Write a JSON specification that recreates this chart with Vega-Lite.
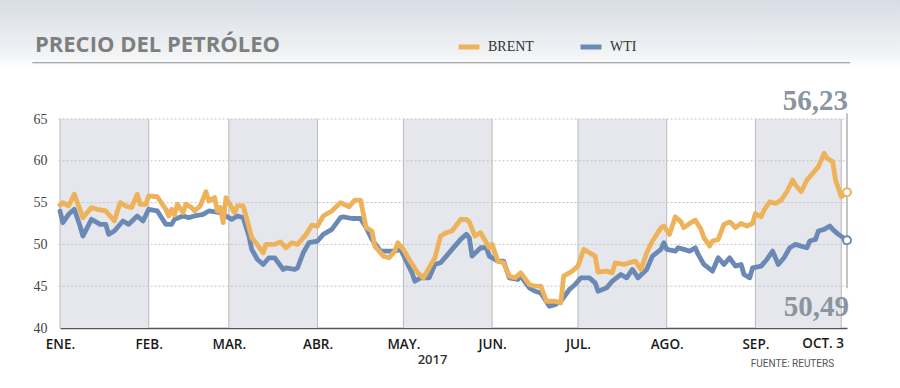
{
  "$schema": "https://vega.github.io/schema/vega-lite/v6.json",
  "width": 787,
  "height": 209,
  "autosize": {"type": "none"},
  "padding": {"left": 60, "top": 119, "right": 53, "bottom": 60},
  "background": "#ffffff",
  "config": {"view": {"stroke": null}},
  "datasets": {
    "uno": [{}],
    "bandas": [
      {"inicio": "2017-01-01", "fin": "2017-02-01"},
      {"inicio": "2017-03-01", "fin": "2017-04-01"},
      {"inicio": "2017-05-01", "fin": "2017-06-01"},
      {"inicio": "2017-07-01", "fin": "2017-08-01"},
      {"inicio": "2017-09-01", "fin": "2017-10-01"}
    ],
    "meses": [
      {"fecha": "2017-01-01"}, {"fecha": "2017-02-01"}, {"fecha": "2017-03-01"}, {"fecha": "2017-04-01"},
      {"fecha": "2017-05-01"}, {"fecha": "2017-06-01"}, {"fecha": "2017-07-01"}, {"fecha": "2017-08-01"},
      {"fecha": "2017-09-01"}, {"fecha": "2017-10-01"}
    ],
    "rejilla": [{"valor": 45}, {"valor": 50}, {"valor": 55}, {"valor": 60}, {"valor": 65}],
    "finales": [
      {"fecha": "2017-10-03", "serie": "BRENT", "valor": 56.23},
      {"fecha": "2017-10-03", "serie": "WTI", "valor": 50.49}
    ],
    "precios": [
      {"fecha": "2017-01-01", "serie": "BRENT", "valor": 54.7},
      {"fecha": "2017-01-02", "serie": "BRENT", "valor": 55.0},
      {"fecha": "2017-01-04", "serie": "BRENT", "valor": 54.6},
      {"fecha": "2017-01-06", "serie": "BRENT", "valor": 56.0},
      {"fecha": "2017-01-09", "serie": "BRENT", "valor": 53.2},
      {"fecha": "2017-01-12", "serie": "BRENT", "valor": 54.4},
      {"fecha": "2017-01-14", "serie": "BRENT", "valor": 54.2},
      {"fecha": "2017-01-17", "serie": "BRENT", "valor": 54.0},
      {"fecha": "2017-01-20", "serie": "BRENT", "valor": 52.8},
      {"fecha": "2017-01-22", "serie": "BRENT", "valor": 55.0},
      {"fecha": "2017-01-24", "serie": "BRENT", "valor": 54.6},
      {"fecha": "2017-01-26", "serie": "BRENT", "valor": 54.4},
      {"fecha": "2017-01-28", "serie": "BRENT", "valor": 56.0},
      {"fecha": "2017-01-29", "serie": "BRENT", "valor": 54.8},
      {"fecha": "2017-01-31", "serie": "BRENT", "valor": 54.8},
      {"fecha": "2017-02-01", "serie": "BRENT", "valor": 55.8},
      {"fecha": "2017-02-04", "serie": "BRENT", "valor": 55.7},
      {"fecha": "2017-02-07", "serie": "BRENT", "valor": 54.2},
      {"fecha": "2017-02-08", "serie": "BRENT", "valor": 53.4},
      {"fecha": "2017-02-09", "serie": "BRENT", "valor": 54.2},
      {"fecha": "2017-02-10", "serie": "BRENT", "valor": 53.5},
      {"fecha": "2017-02-11", "serie": "BRENT", "valor": 54.8},
      {"fecha": "2017-02-13", "serie": "BRENT", "valor": 53.8},
      {"fecha": "2017-02-14", "serie": "BRENT", "valor": 54.8},
      {"fecha": "2017-02-16", "serie": "BRENT", "valor": 54.4},
      {"fecha": "2017-02-17", "serie": "BRENT", "valor": 54.0},
      {"fecha": "2017-02-19", "serie": "BRENT", "valor": 54.6},
      {"fecha": "2017-02-21", "serie": "BRENT", "valor": 56.3},
      {"fecha": "2017-02-22", "serie": "BRENT", "valor": 55.2},
      {"fecha": "2017-02-24", "serie": "BRENT", "valor": 55.6},
      {"fecha": "2017-02-25", "serie": "BRENT", "valor": 54.0},
      {"fecha": "2017-02-26", "serie": "BRENT", "valor": 54.4},
      {"fecha": "2017-02-27", "serie": "BRENT", "valor": 52.6},
      {"fecha": "2017-02-28", "serie": "BRENT", "valor": 55.6},
      {"fecha": "2017-03-02", "serie": "BRENT", "valor": 54.4},
      {"fecha": "2017-03-03", "serie": "BRENT", "valor": 53.8},
      {"fecha": "2017-03-04", "serie": "BRENT", "valor": 54.6},
      {"fecha": "2017-03-06", "serie": "BRENT", "valor": 54.6},
      {"fecha": "2017-03-07", "serie": "BRENT", "valor": 53.4},
      {"fecha": "2017-03-09", "serie": "BRENT", "valor": 50.8},
      {"fecha": "2017-03-10", "serie": "BRENT", "valor": 50.4},
      {"fecha": "2017-03-13", "serie": "BRENT", "valor": 49.0},
      {"fecha": "2017-03-14", "serie": "BRENT", "valor": 50.0},
      {"fecha": "2017-03-17", "serie": "BRENT", "valor": 50.0},
      {"fecha": "2017-03-19", "serie": "BRENT", "valor": 50.3},
      {"fecha": "2017-03-21", "serie": "BRENT", "valor": 49.6},
      {"fecha": "2017-03-23", "serie": "BRENT", "valor": 50.2},
      {"fecha": "2017-03-25", "serie": "BRENT", "valor": 50.0},
      {"fecha": "2017-03-28", "serie": "BRENT", "valor": 51.2},
      {"fecha": "2017-03-30", "serie": "BRENT", "valor": 52.3},
      {"fecha": "2017-04-01", "serie": "BRENT", "valor": 52.2},
      {"fecha": "2017-04-03", "serie": "BRENT", "valor": 53.4},
      {"fecha": "2017-04-06", "serie": "BRENT", "valor": 54.0},
      {"fecha": "2017-04-09", "serie": "BRENT", "valor": 55.0},
      {"fecha": "2017-04-12", "serie": "BRENT", "valor": 54.5},
      {"fecha": "2017-04-14", "serie": "BRENT", "valor": 55.3},
      {"fecha": "2017-04-16", "serie": "BRENT", "valor": 55.3},
      {"fecha": "2017-04-18", "serie": "BRENT", "valor": 52.0},
      {"fecha": "2017-04-20", "serie": "BRENT", "valor": 51.6},
      {"fecha": "2017-04-21", "serie": "BRENT", "valor": 49.8},
      {"fecha": "2017-04-24", "serie": "BRENT", "valor": 48.6},
      {"fecha": "2017-04-26", "serie": "BRENT", "valor": 48.4},
      {"fecha": "2017-04-28", "serie": "BRENT", "valor": 49.2},
      {"fecha": "2017-04-29", "serie": "BRENT", "valor": 50.2},
      {"fecha": "2017-05-01", "serie": "BRENT", "valor": 49.4},
      {"fecha": "2017-05-03", "serie": "BRENT", "valor": 48.2},
      {"fecha": "2017-05-06", "serie": "BRENT", "valor": 46.6},
      {"fecha": "2017-05-08", "serie": "BRENT", "valor": 46.0},
      {"fecha": "2017-05-10", "serie": "BRENT", "valor": 47.2},
      {"fecha": "2017-05-12", "serie": "BRENT", "valor": 48.4},
      {"fecha": "2017-05-14", "serie": "BRENT", "valor": 51.0},
      {"fecha": "2017-05-16", "serie": "BRENT", "valor": 51.4},
      {"fecha": "2017-05-18", "serie": "BRENT", "valor": 51.6},
      {"fecha": "2017-05-21", "serie": "BRENT", "valor": 53.0},
      {"fecha": "2017-05-23", "serie": "BRENT", "valor": 53.0},
      {"fecha": "2017-05-24", "serie": "BRENT", "valor": 52.7},
      {"fecha": "2017-05-26", "serie": "BRENT", "valor": 51.0},
      {"fecha": "2017-05-28", "serie": "BRENT", "valor": 51.4},
      {"fecha": "2017-05-31", "serie": "BRENT", "valor": 49.6},
      {"fecha": "2017-06-01", "serie": "BRENT", "valor": 50.0},
      {"fecha": "2017-06-03", "serie": "BRENT", "valor": 48.0},
      {"fecha": "2017-06-05", "serie": "BRENT", "valor": 47.8},
      {"fecha": "2017-06-07", "serie": "BRENT", "valor": 46.2},
      {"fecha": "2017-06-09", "serie": "BRENT", "valor": 46.0},
      {"fecha": "2017-06-11", "serie": "BRENT", "valor": 46.6},
      {"fecha": "2017-06-14", "serie": "BRENT", "valor": 45.2},
      {"fecha": "2017-06-16", "serie": "BRENT", "valor": 45.0},
      {"fecha": "2017-06-18", "serie": "BRENT", "valor": 45.0},
      {"fecha": "2017-06-20", "serie": "BRENT", "valor": 43.2},
      {"fecha": "2017-06-23", "serie": "BRENT", "valor": 43.2},
      {"fecha": "2017-06-25", "serie": "BRENT", "valor": 43.0},
      {"fecha": "2017-06-26", "serie": "BRENT", "valor": 46.2},
      {"fecha": "2017-06-29", "serie": "BRENT", "valor": 46.8},
      {"fecha": "2017-07-01", "serie": "BRENT", "valor": 47.4},
      {"fecha": "2017-07-03", "serie": "BRENT", "valor": 49.4},
      {"fecha": "2017-07-05", "serie": "BRENT", "valor": 49.0},
      {"fecha": "2017-07-07", "serie": "BRENT", "valor": 48.6},
      {"fecha": "2017-07-08", "serie": "BRENT", "valor": 46.7},
      {"fecha": "2017-07-11", "serie": "BRENT", "valor": 46.8},
      {"fecha": "2017-07-13", "serie": "BRENT", "valor": 46.6},
      {"fecha": "2017-07-14", "serie": "BRENT", "valor": 47.8},
      {"fecha": "2017-07-17", "serie": "BRENT", "valor": 47.6},
      {"fecha": "2017-07-19", "serie": "BRENT", "valor": 47.8},
      {"fecha": "2017-07-21", "serie": "BRENT", "valor": 48.0},
      {"fecha": "2017-07-23", "serie": "BRENT", "valor": 47.0},
      {"fecha": "2017-07-25", "serie": "BRENT", "valor": 49.0},
      {"fecha": "2017-07-27", "serie": "BRENT", "valor": 50.4},
      {"fecha": "2017-07-30", "serie": "BRENT", "valor": 52.0},
      {"fecha": "2017-07-31", "serie": "BRENT", "valor": 52.2},
      {"fecha": "2017-08-02", "serie": "BRENT", "valor": 51.2},
      {"fecha": "2017-08-04", "serie": "BRENT", "valor": 53.3},
      {"fecha": "2017-08-06", "serie": "BRENT", "valor": 52.7},
      {"fecha": "2017-08-07", "serie": "BRENT", "valor": 52.0},
      {"fecha": "2017-08-09", "serie": "BRENT", "valor": 52.5},
      {"fecha": "2017-08-11", "serie": "BRENT", "valor": 52.9},
      {"fecha": "2017-08-13", "serie": "BRENT", "valor": 51.8},
      {"fecha": "2017-08-14", "serie": "BRENT", "valor": 50.8},
      {"fecha": "2017-08-16", "serie": "BRENT", "valor": 49.8},
      {"fecha": "2017-08-17", "serie": "BRENT", "valor": 50.4},
      {"fecha": "2017-08-19", "serie": "BRENT", "valor": 50.6},
      {"fecha": "2017-08-21", "serie": "BRENT", "valor": 52.4},
      {"fecha": "2017-08-23", "serie": "BRENT", "valor": 52.7},
      {"fecha": "2017-08-24", "serie": "BRENT", "valor": 52.4},
      {"fecha": "2017-08-25", "serie": "BRENT", "valor": 52.0},
      {"fecha": "2017-08-27", "serie": "BRENT", "valor": 52.5},
      {"fecha": "2017-08-29", "serie": "BRENT", "valor": 52.2},
      {"fecha": "2017-08-31", "serie": "BRENT", "valor": 52.5},
      {"fecha": "2017-09-01", "serie": "BRENT", "valor": 53.7},
      {"fecha": "2017-09-03", "serie": "BRENT", "valor": 53.3},
      {"fecha": "2017-09-04", "serie": "BRENT", "valor": 54.1},
      {"fecha": "2017-09-06", "serie": "BRENT", "valor": 55.1},
      {"fecha": "2017-09-08", "serie": "BRENT", "valor": 54.9},
      {"fecha": "2017-09-10", "serie": "BRENT", "valor": 55.3},
      {"fecha": "2017-09-12", "serie": "BRENT", "valor": 56.3},
      {"fecha": "2017-09-14", "serie": "BRENT", "valor": 57.7},
      {"fecha": "2017-09-15", "serie": "BRENT", "valor": 57.1},
      {"fecha": "2017-09-17", "serie": "BRENT", "valor": 56.3},
      {"fecha": "2017-09-19", "serie": "BRENT", "valor": 57.7},
      {"fecha": "2017-09-21", "serie": "BRENT", "valor": 58.5},
      {"fecha": "2017-09-23", "serie": "BRENT", "valor": 59.3},
      {"fecha": "2017-09-25", "serie": "BRENT", "valor": 60.9},
      {"fecha": "2017-09-26", "serie": "BRENT", "valor": 60.3},
      {"fecha": "2017-09-28", "serie": "BRENT", "valor": 59.9},
      {"fecha": "2017-09-29", "serie": "BRENT", "valor": 57.7},
      {"fecha": "2017-10-01", "serie": "BRENT", "valor": 55.7},
      {"fecha": "2017-10-03", "serie": "BRENT", "valor": 56.23},
      {"fecha": "2017-01-01", "serie": "WTI", "valor": 54.0},
      {"fecha": "2017-01-02", "serie": "WTI", "valor": 52.6},
      {"fecha": "2017-01-04", "serie": "WTI", "valor": 53.6},
      {"fecha": "2017-01-06", "serie": "WTI", "valor": 54.2},
      {"fecha": "2017-01-08", "serie": "WTI", "valor": 52.2},
      {"fecha": "2017-01-09", "serie": "WTI", "valor": 51.0},
      {"fecha": "2017-01-12", "serie": "WTI", "valor": 53.0},
      {"fecha": "2017-01-14", "serie": "WTI", "valor": 52.6},
      {"fecha": "2017-01-15", "serie": "WTI", "valor": 52.4},
      {"fecha": "2017-01-17", "serie": "WTI", "valor": 52.4},
      {"fecha": "2017-01-18", "serie": "WTI", "valor": 51.2},
      {"fecha": "2017-01-20", "serie": "WTI", "valor": 51.6},
      {"fecha": "2017-01-23", "serie": "WTI", "valor": 52.8},
      {"fecha": "2017-01-25", "serie": "WTI", "valor": 52.4},
      {"fecha": "2017-01-28", "serie": "WTI", "valor": 53.4},
      {"fecha": "2017-01-30", "serie": "WTI", "valor": 52.8},
      {"fecha": "2017-02-01", "serie": "WTI", "valor": 54.2},
      {"fecha": "2017-02-04", "serie": "WTI", "valor": 54.0},
      {"fecha": "2017-02-07", "serie": "WTI", "valor": 52.4},
      {"fecha": "2017-02-09", "serie": "WTI", "valor": 52.4},
      {"fecha": "2017-02-10", "serie": "WTI", "valor": 53.0},
      {"fecha": "2017-02-13", "serie": "WTI", "valor": 53.4},
      {"fecha": "2017-02-15", "serie": "WTI", "valor": 53.2},
      {"fecha": "2017-02-17", "serie": "WTI", "valor": 53.4},
      {"fecha": "2017-02-20", "serie": "WTI", "valor": 53.6},
      {"fecha": "2017-02-22", "serie": "WTI", "valor": 54.0},
      {"fecha": "2017-02-26", "serie": "WTI", "valor": 53.8},
      {"fecha": "2017-03-02", "serie": "WTI", "valor": 53.0},
      {"fecha": "2017-03-04", "serie": "WTI", "valor": 53.4},
      {"fecha": "2017-03-06", "serie": "WTI", "valor": 53.2},
      {"fecha": "2017-03-08", "serie": "WTI", "valor": 51.0},
      {"fecha": "2017-03-09", "serie": "WTI", "valor": 49.4},
      {"fecha": "2017-03-11", "serie": "WTI", "valor": 48.2},
      {"fecha": "2017-03-13", "serie": "WTI", "valor": 47.6},
      {"fecha": "2017-03-15", "serie": "WTI", "valor": 48.4},
      {"fecha": "2017-03-17", "serie": "WTI", "valor": 48.4},
      {"fecha": "2017-03-20", "serie": "WTI", "valor": 47.0},
      {"fecha": "2017-03-21", "serie": "WTI", "valor": 47.2},
      {"fecha": "2017-03-24", "serie": "WTI", "valor": 47.0},
      {"fecha": "2017-03-25", "serie": "WTI", "valor": 47.2},
      {"fecha": "2017-03-27", "serie": "WTI", "valor": 49.0},
      {"fecha": "2017-03-29", "serie": "WTI", "valor": 50.2},
      {"fecha": "2017-04-01", "serie": "WTI", "valor": 50.4},
      {"fecha": "2017-04-03", "serie": "WTI", "valor": 51.2},
      {"fecha": "2017-04-06", "serie": "WTI", "valor": 51.8},
      {"fecha": "2017-04-09", "serie": "WTI", "valor": 53.2},
      {"fecha": "2017-04-10", "serie": "WTI", "valor": 53.3},
      {"fecha": "2017-04-13", "serie": "WTI", "valor": 53.1},
      {"fecha": "2017-04-16", "serie": "WTI", "valor": 53.1},
      {"fecha": "2017-04-18", "serie": "WTI", "valor": 52.0},
      {"fecha": "2017-04-20", "serie": "WTI", "valor": 50.6},
      {"fecha": "2017-04-23", "serie": "WTI", "valor": 49.2},
      {"fecha": "2017-04-25", "serie": "WTI", "valor": 49.2},
      {"fecha": "2017-04-28", "serie": "WTI", "valor": 49.2},
      {"fecha": "2017-04-30", "serie": "WTI", "valor": 49.4},
      {"fecha": "2017-05-02", "serie": "WTI", "valor": 48.0},
      {"fecha": "2017-05-04", "serie": "WTI", "valor": 46.6},
      {"fecha": "2017-05-05", "serie": "WTI", "valor": 45.6},
      {"fecha": "2017-05-07", "serie": "WTI", "valor": 46.0},
      {"fecha": "2017-05-10", "serie": "WTI", "valor": 46.0},
      {"fecha": "2017-05-12", "serie": "WTI", "valor": 47.6},
      {"fecha": "2017-05-14", "serie": "WTI", "valor": 47.8},
      {"fecha": "2017-05-16", "serie": "WTI", "valor": 48.6},
      {"fecha": "2017-05-18", "serie": "WTI", "valor": 49.4},
      {"fecha": "2017-05-21", "serie": "WTI", "valor": 50.6},
      {"fecha": "2017-05-23", "serie": "WTI", "valor": 51.2},
      {"fecha": "2017-05-24", "serie": "WTI", "valor": 50.8},
      {"fecha": "2017-05-25", "serie": "WTI", "valor": 48.6},
      {"fecha": "2017-05-28", "serie": "WTI", "valor": 49.6},
      {"fecha": "2017-05-30", "serie": "WTI", "valor": 49.6},
      {"fecha": "2017-05-31", "serie": "WTI", "valor": 48.6},
      {"fecha": "2017-06-03", "serie": "WTI", "valor": 48.0},
      {"fecha": "2017-06-05", "serie": "WTI", "valor": 48.0},
      {"fecha": "2017-06-07", "serie": "WTI", "valor": 46.0},
      {"fecha": "2017-06-10", "serie": "WTI", "valor": 45.8},
      {"fecha": "2017-06-11", "serie": "WTI", "valor": 46.2},
      {"fecha": "2017-06-14", "serie": "WTI", "valor": 44.8},
      {"fecha": "2017-06-16", "serie": "WTI", "valor": 44.4},
      {"fecha": "2017-06-18", "serie": "WTI", "valor": 44.2},
      {"fecha": "2017-06-21", "serie": "WTI", "valor": 42.6},
      {"fecha": "2017-06-23", "serie": "WTI", "valor": 42.8},
      {"fecha": "2017-06-25", "serie": "WTI", "valor": 43.2},
      {"fecha": "2017-06-28", "serie": "WTI", "valor": 44.6},
      {"fecha": "2017-06-30", "serie": "WTI", "valor": 45.2},
      {"fecha": "2017-07-02", "serie": "WTI", "valor": 46.0},
      {"fecha": "2017-07-05", "serie": "WTI", "valor": 46.0},
      {"fecha": "2017-07-07", "serie": "WTI", "valor": 45.4},
      {"fecha": "2017-07-08", "serie": "WTI", "valor": 44.4},
      {"fecha": "2017-07-11", "serie": "WTI", "valor": 44.8},
      {"fecha": "2017-07-13", "serie": "WTI", "valor": 45.6},
      {"fecha": "2017-07-16", "serie": "WTI", "valor": 46.4},
      {"fecha": "2017-07-18", "serie": "WTI", "valor": 46.0},
      {"fecha": "2017-07-20", "serie": "WTI", "valor": 47.0},
      {"fecha": "2017-07-22", "serie": "WTI", "valor": 46.0},
      {"fecha": "2017-07-25", "serie": "WTI", "valor": 47.0},
      {"fecha": "2017-07-27", "serie": "WTI", "valor": 48.6},
      {"fecha": "2017-07-30", "serie": "WTI", "valor": 49.4},
      {"fecha": "2017-07-31", "serie": "WTI", "valor": 50.2},
      {"fecha": "2017-08-01", "serie": "WTI", "valor": 49.4},
      {"fecha": "2017-08-04", "serie": "WTI", "valor": 49.2},
      {"fecha": "2017-08-05", "serie": "WTI", "valor": 49.6},
      {"fecha": "2017-08-07", "serie": "WTI", "valor": 49.4},
      {"fecha": "2017-08-09", "serie": "WTI", "valor": 49.2},
      {"fecha": "2017-08-11", "serie": "WTI", "valor": 49.6},
      {"fecha": "2017-08-12", "serie": "WTI", "valor": 48.8},
      {"fecha": "2017-08-14", "serie": "WTI", "valor": 47.6},
      {"fecha": "2017-08-17", "serie": "WTI", "valor": 46.8},
      {"fecha": "2017-08-19", "serie": "WTI", "valor": 48.4},
      {"fecha": "2017-08-21", "serie": "WTI", "valor": 47.6},
      {"fecha": "2017-08-23", "serie": "WTI", "valor": 48.4},
      {"fecha": "2017-08-25", "serie": "WTI", "valor": 47.4},
      {"fecha": "2017-08-27", "serie": "WTI", "valor": 47.6},
      {"fecha": "2017-08-28", "serie": "WTI", "valor": 46.4},
      {"fecha": "2017-08-30", "serie": "WTI", "valor": 46.0},
      {"fecha": "2017-08-31", "serie": "WTI", "valor": 47.2},
      {"fecha": "2017-09-03", "serie": "WTI", "valor": 47.4},
      {"fecha": "2017-09-05", "serie": "WTI", "valor": 48.2},
      {"fecha": "2017-09-07", "serie": "WTI", "valor": 49.2},
      {"fecha": "2017-09-09", "serie": "WTI", "valor": 47.6},
      {"fecha": "2017-09-11", "serie": "WTI", "valor": 48.4},
      {"fecha": "2017-09-13", "serie": "WTI", "valor": 49.6},
      {"fecha": "2017-09-15", "serie": "WTI", "valor": 50.0},
      {"fecha": "2017-09-17", "serie": "WTI", "valor": 49.8},
      {"fecha": "2017-09-19", "serie": "WTI", "valor": 49.6},
      {"fecha": "2017-09-20", "serie": "WTI", "valor": 50.4},
      {"fecha": "2017-09-22", "serie": "WTI", "valor": 50.6},
      {"fecha": "2017-09-23", "serie": "WTI", "valor": 51.6},
      {"fecha": "2017-09-25", "serie": "WTI", "valor": 51.8},
      {"fecha": "2017-09-27", "serie": "WTI", "valor": 52.2},
      {"fecha": "2017-09-28", "serie": "WTI", "valor": 51.8},
      {"fecha": "2017-09-30", "serie": "WTI", "valor": 51.2},
      {"fecha": "2017-10-03", "serie": "WTI", "valor": 50.49}
    ]
  },
  "layer": [
    {
      "data": {"name": "uno"},
      "mark": {"type": "rect", "fill": {"gradient": "linear", "x1": 0, "y1": 0, "x2": 0, "y2": 1, "stops": [{"offset": 0, "color": "#d5dae2"}, {"offset": 0.8, "color": "#f1f3f5"}, {"offset": 1, "color": "#ffffff"}]}},
      "encoding": {
        "x": {"datum": {"year": 2016, "month": 12, "date": 1}, "type": "temporal", "scale": {"domain": [{"year": 2017, "month": 1, "date": 1}, {"year": 2017, "month": 10, "date": 3}]}},
        "x2": {"datum": {"year": 2017, "month": 11, "date": 1}},
        "y": {"datum": 80, "type": "quantitative", "scale": {"domain": [40, 65], "nice": false, "zero": false}},
        "y2": {"datum": 71}
      }
    },
    {
      "data": {"name": "uno"},
      "mark": {"type": "rule", "color": "#8f8f8f", "strokeWidth": 1.2},
      "encoding": {
        "x": {"datum": {"year": 2016, "month": 12, "date": 22, "hours": 8}, "type": "temporal", "scale": {"domain": [{"year": 2017, "month": 1, "date": 1}, {"year": 2017, "month": 10, "date": 3}]}},
        "x2": {"datum": {"year": 2017, "month": 10, "date": 4, "hours": 1}},
        "y": {"datum": 71.73, "type": "quantitative", "scale": {"domain": [40, 65], "nice": false, "zero": false}}
      }
    },
    {
      "data": {"name": "uno"},
      "mark": {"type": "text", "text": "PRECIO DEL PETRÓLEO", "align": "left", "baseline": "alphabetic", "font": "Open Sans", "fontSize": 22, "fontWeight": 700, "color": "#7f7f7f"},
      "encoding": {
        "x": {"datum": {"year": 2016, "month": 12, "date": 23, "hours": 6}, "type": "temporal", "scale": {"domain": [{"year": 2017, "month": 1, "date": 1}, {"year": 2017, "month": 10, "date": 3}]}},
        "y": {"datum": 73.0, "type": "quantitative", "scale": {"domain": [40, 65], "nice": false, "zero": false}}
      }
    },
    {
      "data": {"name": "bandas", "format": {"parse": {"inicio": "date:'%Y-%m-%d'", "fin": "date:'%Y-%m-%d'"}}},
      "mark": {"type": "rect", "color": "#e6e7ed"},
      "encoding": {
        "x": {"field": "inicio", "type": "temporal", "scale": {"domain": [{"year": 2017, "month": 1, "date": 1}, {"year": 2017, "month": 10, "date": 3}]}},
        "x2": {"field": "fin"},
        "y": {"datum": 40, "type": "quantitative", "scale": {"domain": [40, 65], "nice": false, "zero": false}},
        "y2": {"datum": 65}
      }
    },
    {
      "data": {"name": "meses", "format": {"parse": {"fecha": "date:'%Y-%m-%d'"}}},
      "mark": {"type": "rule", "color": "#b9b9bd", "strokeWidth": 1},
      "encoding": {
        "x": {"field": "fecha", "type": "temporal", "scale": {"domain": [{"year": 2017, "month": 1, "date": 1}, {"year": 2017, "month": 10, "date": 3}]}},
        "y": {"datum": 40, "type": "quantitative", "scale": {"domain": [40, 65], "nice": false, "zero": false}},
        "y2": {"datum": 65}
      }
    },
    {
      "data": {"name": "rejilla"},
      "mark": {"type": "rule", "color": "#c4c4c4", "strokeWidth": 1, "strokeDash": [2, 2]},
      "encoding": {
        "x": {"datum": {"year": 2016, "month": 12, "date": 31, "hours": 12}, "type": "temporal", "scale": {"domain": [{"year": 2017, "month": 1, "date": 1}, {"year": 2017, "month": 10, "date": 3}]}},
        "x2": {"datum": {"year": 2017, "month": 10, "date": 3}},
        "y": {"field": "valor", "type": "quantitative", "scale": {"domain": [40, 65], "nice": false, "zero": false}}
      }
    },
    {
      "data": {"name": "uno"},
      "mark": {"type": "rule", "color": "#b0b0b0", "strokeWidth": 1.5},
      "encoding": {
        "x": {"datum": {"year": 2017, "month": 10, "date": 3}, "type": "temporal", "scale": {"domain": [{"year": 2017, "month": 1, "date": 1}, {"year": 2017, "month": 10, "date": 3}]}},
        "y": {"datum": 44.75, "type": "quantitative", "scale": {"domain": [40, 65], "nice": false, "zero": false}},
        "y2": {"datum": 65.68}
      }
    },
    {
      "data": {"name": "precios"},
      "transform": [{"filter": "datum.serie == 'WTI'"}],
      "mark": {"type": "line", "strokeWidth": 4.8, "strokeJoin": "round", "strokeCap": "round"},
      "encoding": {
        "x": {"field": "fecha", "type": "temporal", "scale": {"domain": [{"year": 2017, "month": 1, "date": 1}, {"year": 2017, "month": 10, "date": 3}]}},
        "y": {"field": "valor", "type": "quantitative", "scale": {"domain": [40, 65], "nice": false, "zero": false}},
        "color": {"field": "serie", "type": "nominal", "scale": {"domain": ["BRENT", "WTI"], "range": ["#edb25a", "#6a8ab5"]}}
      }
    },
    {
      "data": {"name": "precios"},
      "transform": [{"filter": "datum.serie == 'BRENT'"}],
      "mark": {"type": "line", "strokeWidth": 4.8, "strokeJoin": "round", "strokeCap": "round"},
      "encoding": {
        "x": {
          "field": "fecha", "type": "temporal",
          "scale": {"domain": [{"year": 2017, "month": 1, "date": 1}, {"year": 2017, "month": 10, "date": 3}]},
          "axis": {
            "values": [
              {"year": 2017, "month": 1, "date": 1}, {"year": 2017, "month": 2, "date": 1}, {"year": 2017, "month": 3, "date": 1},
              {"year": 2017, "month": 4, "date": 1}, {"year": 2017, "month": 5, "date": 1}, {"year": 2017, "month": 6, "date": 1},
              {"year": 2017, "month": 7, "date": 1}, {"year": 2017, "month": 8, "date": 1}, {"year": 2017, "month": 9, "date": 1}
            ],
            "labelExpr": "month(datum.value) == 0 ? 'ENE.' : month(datum.value) == 1 ? 'FEB.' : month(datum.value) == 2 ? 'MAR.' : month(datum.value) == 3 ? 'ABR.' : month(datum.value) == 4 ? 'MAY.' : month(datum.value) == 5 ? 'JUN.' : month(datum.value) == 6 ? 'JUL.' : month(datum.value) == 7 ? 'AGO.' : 'SEP.'",
            "labelAlign": "center",
            "labelFont": "Open Sans", "labelFontWeight": 600, "labelFontSize": 13.5, "labelColor": "#1a1a1a",
            "labelBaseline": "alphabetic", "labelPadding": 20,
            "labelOverlap": false, "labelFlush": false, "labelBound": false,
            "ticks": false, "grid": false, "domainColor": "#555555", "domainWidth": 1.5,
            "title": "2017", "titleFont": "Open Sans", "titleFontWeight": 600, "titleFontSize": 13, "titleColor": "#333333",
            "titleX": 372, "titleY": 35, "titleAlign": "center", "titleBaseline": "alphabetic"
          }
        },
        "y": {
          "field": "valor", "type": "quantitative",
          "scale": {"domain": [40, 65], "nice": false, "zero": false},
          "axis": {"values": [40, 45, 50, 55, 60, 65], "labelFont": "Liberation Serif", "labelFontSize": 14, "labelColor": "#444444", "labelPadding": 13, "ticks": false, "domain": false, "grid": false, "title": null, "labelBaseline": "middle"}
        },
        "color": {
          "field": "serie", "type": "nominal",
          "scale": {"domain": ["BRENT", "WTI"], "range": ["#edb25a", "#6a8ab5"]},
          "legend": {"orient": "none", "legendX": 396, "legendY": -85, "direction": "horizontal", "title": null, "symbolType": "stroke", "symbolStrokeWidth": 5, "symbolSize": 440, "labelFont": "Liberation Serif", "labelFontSize": 14, "labelColor": "#333333", "labelOffset": 6, "columnPadding": 36}
        }
      }
    },
    {
      "data": {"name": "finales", "format": {"parse": {"fecha": "date:'%Y-%m-%d'"}}},
      "mark": {"type": "point", "shape": "circle", "fill": "#ffffff", "fillOpacity": 1, "strokeWidth": 2, "size": 64, "opacity": 1},
      "encoding": {
        "x": {"field": "fecha", "type": "temporal", "scale": {"domain": [{"year": 2017, "month": 1, "date": 1}, {"year": 2017, "month": 10, "date": 3}]}},
        "y": {"field": "valor", "type": "quantitative", "scale": {"domain": [40, 65], "nice": false, "zero": false}},
        "stroke": {"field": "serie", "type": "nominal", "scale": {"domain": ["BRENT", "WTI"], "range": ["#edb25a", "#6a8ab5"]}, "legend": null}
      }
    },
    {
      "data": {"name": "uno"},
      "mark": {"type": "text", "text": "56,23", "align": "right", "baseline": "alphabetic", "dx": 1, "font": "Liberation Serif", "fontSize": 29, "fontWeight": 700, "color": "#8a959f"},
      "encoding": {
        "x": {"datum": {"year": 2017, "month": 10, "date": 3}, "type": "temporal", "scale": {"domain": [{"year": 2017, "month": 1, "date": 1}, {"year": 2017, "month": 10, "date": 3}]}},
        "y": {"datum": 66.08, "type": "quantitative", "scale": {"domain": [40, 65], "nice": false, "zero": false}}
      }
    },
    {
      "data": {"name": "uno"},
      "mark": {"type": "text", "text": "50,49", "align": "right", "baseline": "alphabetic", "dx": 2, "font": "Liberation Serif", "fontSize": 29, "fontWeight": 700, "color": "#8a959f"},
      "encoding": {
        "x": {"datum": {"year": 2017, "month": 10, "date": 3}, "type": "temporal", "scale": {"domain": [{"year": 2017, "month": 1, "date": 1}, {"year": 2017, "month": 10, "date": 3}]}},
        "y": {"datum": 41.44, "type": "quantitative", "scale": {"domain": [40, 65], "nice": false, "zero": false}}
      }
    },
    {
      "data": {"name": "uno"},
      "mark": {"type": "text", "text": "OCT. 3", "align": "right", "baseline": "alphabetic", "dx": -3, "font": "Open Sans", "fontSize": 13.5, "fontWeight": 600, "color": "#1a1a1a"},
      "encoding": {
        "x": {"datum": {"year": 2017, "month": 10, "date": 3}, "type": "temporal", "scale": {"domain": [{"year": 2017, "month": 1, "date": 1}, {"year": 2017, "month": 10, "date": 3}]}},
        "y": {"datum": 37.61, "type": "quantitative", "scale": {"domain": [40, 65], "nice": false, "zero": false}}
      }
    },
    {
      "data": {"name": "uno"},
      "mark": {"type": "text", "text": "FUENTE: REUTERS", "align": "right", "baseline": "alphabetic", "font": "Roboto", "fontSize": 10, "color": "#555555"},
      "encoding": {
        "x": {"datum": {"year": 2017, "month": 9, "date": 28, "hours": 12}, "type": "temporal", "scale": {"domain": [{"year": 2017, "month": 1, "date": 1}, {"year": 2017, "month": 10, "date": 3}]}},
        "y": {"datum": 35.3, "type": "quantitative", "scale": {"domain": [40, 65], "nice": false, "zero": false}}
      }
    }
  ]
}
